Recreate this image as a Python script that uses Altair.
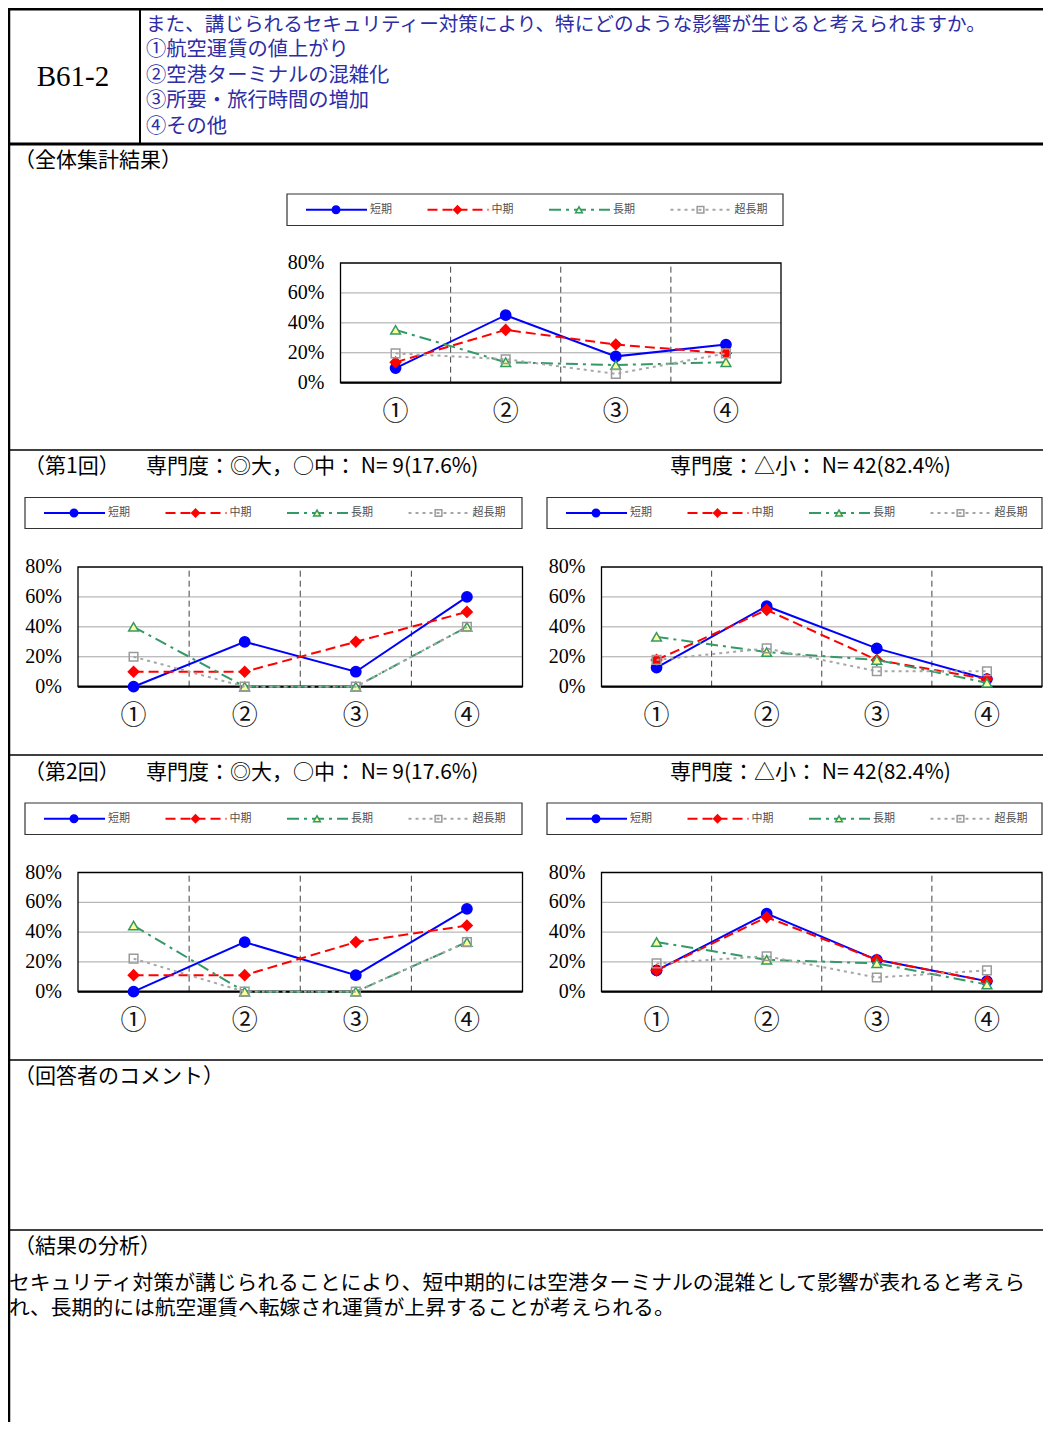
import altair as alt
import pandas as pd

OFF = 8
W, H = 1035, 1414

# ---------------- data ----------------
categories = ["①", "②", "③", "④"]
series = ["短期", "中期", "長期", "超長期"]
y_ticks = [0, 20, 40, 60, 80]
y_tick_labels = ["0%", "20%", "40%", "60%", "80%"]

overall_short = [9.8, 45.1, 17.6, 25.5]
overall_mid = [13.7, 35.3, 25.5, 19.6]
overall_long = [35.3, 13.7, 11.8, 13.7]
overall_ultra = [19.6, 15.7, 5.9, 19.6]

r1_high_short = [0, 30, 10, 60]
r1_high_mid = [10, 10, 30, 50]
r1_high_long = [40, 0, 0, 40]
r1_high_ultra = [20, 0, 0, 40]

r1_low_short = [12.8, 53.8, 25.6, 5.1]
r1_low_mid = [17.9, 51.3, 17.9, 5.1]
r1_low_long = [33.3, 23.1, 17.9, 2.6]
r1_low_ultra = [17.9, 25.6, 10.3, 10.3]

r2_high_short = [0, 33.3, 11.1, 55.6]
r2_high_mid = [11.1, 11.1, 33.3, 44.4]
r2_high_long = [44.4, 0, 0, 33.3]
r2_high_ultra = [22.2, 0, 0, 33.3]

r2_low_short = [14.3, 52.4, 21.4, 7.1]
r2_low_mid = [14.3, 50.0, 21.4, 7.1]
r2_low_long = [33.3, 21.4, 19.0, 4.8]
r2_low_ultra = [19.0, 23.8, 9.5, 14.3]

code_label = "B61-2"
question_lines = [
    "また、講じられるセキュリティー対策により、特にどのような影響が生じると考えられますか。",
    "①航空運賃の値上がり",
    "②空港ターミナルの混雑化",
    "③所要・旅行時間の増加",
    "④その他",
]
title_high = "専門度：◎大，○中： N= 9(17.6%)"
title_low = "専門度：△小： N= 42(82.4%)"
analysis_lines = [
    "セキュリティ対策が講じられることにより、短中期的には空港ターミナルの混雑として影響が表れると考えら",
    "れ、長期的には航空運賃へ転嫁され運賃が上昇することが考えられる。",
]

# ---------------- styles ----------------
JP = "Noto Sans CJK JP"
SERIF = "Liberation Serif"
STYLE = {
    "短期": dict(color="#0000ff", dash=None, shape="circle", filled=True, fill="#0000ff",
               stroke="#0000ff", size=105, lsize=55),
    "中期": dict(color="#ff0000", dash=[10, 5], shape="diamond", filled=True, fill="#ff0000",
               stroke="#ff0000", size=110, lsize=60),
    "長期": dict(color="#339966", dash=[12, 5, 3, 5], shape="triangle-up", filled=True,
               fill="#ffff99", stroke="#339966", size=95, lsize=45),
    "超長期": dict(color="#a6a6a6", dash=[3, 4], shape="square", filled=False, fill=None,
                stroke="#9a9a9a", size=75, lsize=45),
}

dummy = pd.DataFrame({"d": [0]})


def cx(x):
    return min(max(x - OFF, 0), W)


def cy(y):
    return min(max(y - OFF, 0), H)


def txt(x, y, s, size, font=JP, color="black", align="left", baseline="middle"):
    return alt.Chart(dummy).mark_text(
        text=s, fontSize=size, font=font, color=color, align=align, baseline=baseline
    ).encode(x=alt.value(x - OFF), y=alt.value(y - OFF))


def hline(y, x1, x2, w=1.5, color="black"):
    return alt.Chart(dummy).mark_rule(color=color, strokeWidth=w).encode(
        x=alt.value(cx(x1)), x2=alt.value(cx(x2)),
        y=alt.value(cy(y)), y2=alt.value(cy(y)))


def vline(x, y1, y2, w=1.5, color="black"):
    return alt.Chart(dummy).mark_rule(color=color, strokeWidth=w).encode(
        x=alt.value(x), x2=alt.value(x),
        y=alt.value(cy(y1)), y2=alt.value(cy(y2)))


def mark_point_for(st, size):
    kw = dict(shape=st["shape"], size=size, opacity=1, strokeWidth=1.5, stroke=st["stroke"])
    if st["filled"]:
        kw.update(filled=True, fill=st["fill"])
    else:
        kw.update(filled=False, fillOpacity=0)
    return kw


def legend(bx0, by0, bx1, by1):
    layers = [alt.Chart(dummy).mark_rect(fill="white", stroke="#333333", strokeWidth=1.2).encode(
        x=alt.value(bx0 - OFF), x2=alt.value(min(bx1 - OFF, W - 1)),
        y=alt.value(by0 - OFF), y2=alt.value(by1 - OFF))]
    ym = (by0 + by1) / 2 - OFF
    step = 121.5
    for i, s in enumerate(series):
        st = STYLE[s]
        lx0 = bx0 + 19 + step * i - OFF
        lx1 = bx0 + 80 + step * i - OFF
        mx = bx0 + 49 + step * i - OFF
        rk = dict(color=st["color"], strokeWidth=2)
        if st["dash"]:
            rk["strokeDash"] = st["dash"]
        layers.append(alt.Chart(dummy).mark_rule(**rk).encode(
            x=alt.value(lx0), x2=alt.value(lx1), y=alt.value(ym), y2=alt.value(ym)))
        layers.append(alt.Chart(dummy).mark_point(**mark_point_for(st, st["lsize"])).encode(
            x=alt.value(mx), y=alt.value(ym)))
        layers.append(alt.Chart(dummy).mark_text(
            text=s, font=JP, fontSize=11, color="#505050", align="left", baseline="middle"
        ).encode(x=alt.value(bx0 + 83 + step * i - OFF), y=alt.value(ym)))
    return layers


def panel(vals, x0, x1, ytop, ybot):
    xs = alt.Scale(domain=[0.5, len(categories) + 0.5], range=[x0 - OFF, x1 - OFF], nice=False, zero=False)
    ys = alt.Scale(domain=[0, 80], range=[ybot - OFF, ytop - OFF], nice=False, zero=False)

    def X(f):
        return alt.X(f, type="quantitative", scale=xs, axis=None)

    def Y(f):
        return alt.Y(f, type="quantitative", scale=ys, axis=None)

    def XD(v):
        return alt.XDatum(v, type="quantitative", scale=xs, axis=None)

    def YD(v):
        return alt.YDatum(v, type="quantitative", scale=ys, axis=None)

    layers = []
    grid_df = pd.DataFrame({"v": y_ticks[1:-1]})
    layers.append(alt.Chart(grid_df).mark_rule(color="#a6a6a6", strokeWidth=1).encode(
        y=Y("v"), x=XD(0.5), x2=alt.X2Datum(len(categories) + 0.5)))
    bnd_df = pd.DataFrame({"b": [i + 0.5 for i in range(1, len(categories))]})
    layers.append(alt.Chart(bnd_df).mark_rule(color="#404040", strokeWidth=1, strokeDash=[6, 4]).encode(
        x=X("b"), y=YD(0), y2=alt.Y2Datum(80)))
    layers.append(alt.Chart(dummy).mark_rect(fillOpacity=0, stroke="black", strokeWidth=1.3).encode(
        x=XD(0.5), x2=alt.X2Datum(len(categories) + 0.5), y=YD(0), y2=alt.Y2Datum(80)))
    layers.append(alt.Chart(dummy).mark_rule(color="black", strokeWidth=2.2).encode(
        x=XD(0.5), x2=alt.X2Datum(len(categories) + 0.5), y=YD(0)))
    lab_df = pd.DataFrame({"v": y_ticks, "lab": y_tick_labels})
    layers.append(alt.Chart(lab_df).mark_text(
        align="right", baseline="middle", dx=-16, font=SERIF, fontSize=20, color="black"
    ).encode(x=XD(0.5), y=Y("v"), text="lab:N"))
    cat_df = pd.DataFrame({"idx": list(range(1, len(categories) + 1)), "cat": categories})
    layers.append(alt.Chart(cat_df).mark_text(
        align="center", baseline="middle", dy=29, font=JP, fontSize=26, color="#111111"
    ).encode(x=X("idx"), y=YD(0), text="cat:N"))
    for s, v in zip(series, vals):
        st = STYLE[s]
        df = pd.DataFrame({"idx": list(range(1, len(categories) + 1)), "cat": categories, "value": v})
        lk = dict(color=st["color"], strokeWidth=2)
        if st["dash"]:
            lk["strokeDash"] = st["dash"]
        layers.append(alt.Chart(df).mark_line(**lk).encode(x=X("idx"), y=Y("value")))
        layers.append(alt.Chart(df).mark_point(**mark_point_for(st, st["size"])).encode(
            x=X("idx"), y=Y("value")))
    return alt.layer(*layers)


decor = []
# outer table lines
decor.append(hline(9, 0, 1051, w=3))
decor.append(vline(1, 9, 1430, w=2.5))
decor.append(vline(140 - OFF, 9, 144, w=2))
decor.append(hline(144, 0, 1051, w=3))
for yy in [450, 755, 1060, 1230]:
    decor.append(hline(yy, 0, 1051, w=1.5))

# header texts
decor.append(txt(73, 77, code_label, 29, font=SERIF, align="center"))
q_sizes = [19.6, 20.3, 20.3, 20.3, 20.3]
q_ys = [24.5, 50, 75.5, 101, 126.5]
for line, fs, yy in zip(question_lines, q_sizes, q_ys):
    decor.append(txt(146, yy, line, fs, color="#2d2da6"))

# section titles
decor.append(txt(14, 161, "（全体集計結果）", 21))
decor.append(txt(24, 467, "（第1回）", 21))
decor.append(txt(146, 467, title_high, 21))
decor.append(txt(670, 467, title_low, 21))
decor.append(txt(24, 773, "（第2回）", 21))
decor.append(txt(146, 773, title_high, 21))
decor.append(txt(670, 773, title_low, 21))
decor.append(txt(14, 1077, "（回答者のコメント）", 21))
decor.append(txt(14, 1247, "（結果の分析）", 21))
for i, line in enumerate(analysis_lines):
    decor.append(txt(9, 1284 + 25 * i, line, 20.8))

# legends
for box in [(287, 194, 783, 225.5), (25, 497.5, 522, 528.5), (547, 497.5, 1045, 528.5),
            (25, 803, 522, 834.5), (547, 803, 1045, 834.5)]:
    decor.extend(legend(*box))

panels = [
    panel([overall_short, overall_mid, overall_long, overall_ultra], 340.5, 781, 263, 382.7),
    panel([r1_high_short, r1_high_mid, r1_high_long, r1_high_ultra], 78, 522.5, 567, 686.7),
    panel([r1_low_short, r1_low_mid, r1_low_long, r1_low_ultra], 601.5, 1042, 567, 686.7),
    panel([r2_high_short, r2_high_mid, r2_high_long, r2_high_ultra], 78, 522.5, 872.5, 991.7),
    panel([r2_low_short, r2_low_mid, r2_low_long, r2_low_ultra], 601.5, 1042, 872.5, 991.7),
]

chart = alt.layer(*decor, *panels).resolve_scale(
    x="independent", y="independent"
).properties(
    width=W, height=H, autosize=alt.AutoSizeParams(type="none"), padding=0,
    background="white"
).configure_view(stroke="transparent")

chart.save("out.html", embed_options={"renderer": "svg", "actions": False})
